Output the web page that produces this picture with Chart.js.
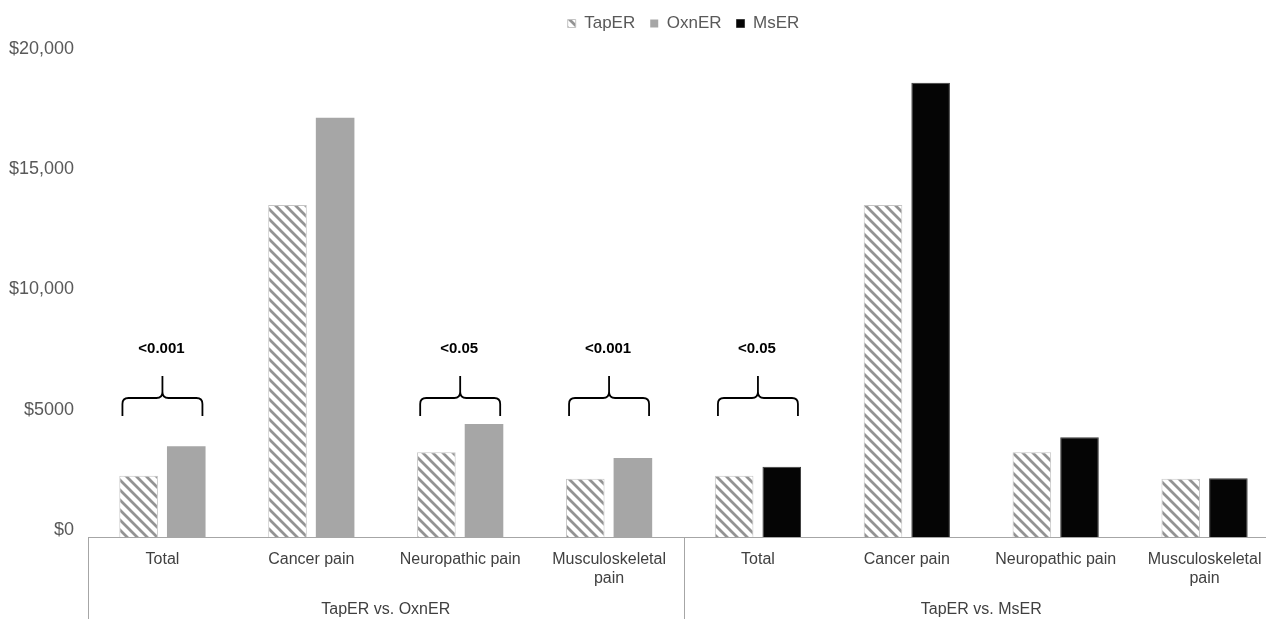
<!DOCTYPE html>
<html>
<head>
<meta charset="utf-8">
<script src="https://cdn.jsdelivr.net/npm/chart.js@4.4.1/dist/chart.umd.min.js"></script>
<style>
  html, body { margin: 0; padding: 0; background: #fff; overflow: hidden; }
  #wrap { position: absolute; left: 0; top: 0; width: 1280px; height: 619px; }
</style>
</head>
<body>
<div id="wrap"><canvas id="c"></canvas></div>
<script>
// ---- data ----
const categories = [
  'Total', 'Cancer pain', 'Neuropathic pain', ['Musculoskeletal', 'pain'],
  'Total', 'Cancer pain', 'Neuropathic pain', ['Musculoskeletal', 'pain']
];
const groupLabels = ['TapER vs. OxnER', 'TapER vs. MsER'];
const tapER = [2550, 13800, 3520, 2420, 2550, 13800, 3520, 2420];
const oxnER = [3770, 17430, 4700, 3290, null, null, null, null];
const msER  = [null, null, null, null, 2920, 18890, 4145, 2440];
const yTickLabels = ['$0', '$5000', '$10,000', '$15,000', '$20,000'];
const bracketCategories = [0, 2, 3, 4];
const bracketLabels = ['<0.001', '<0.05', '<0.001', '<0.05'];

// ---- hatch pattern for TapER ----
function makeHatch() {
  const s = 10;
  const c = document.createElement('canvas');
  c.width = s; c.height = s;
  const g = c.getContext('2d');
  g.fillStyle = '#ffffff';
  g.fillRect(0, 0, s, s);
  g.strokeStyle = '#939393';
  g.lineWidth = 2.8;
  g.beginPath();
  g.moveTo(-1, -1); g.lineTo(s + 1, s + 1);
  g.moveTo(-1, s - 1); g.lineTo(1, s + 1);
  g.moveTo(s - 1, -1); g.lineTo(s + 1, 1);
  g.stroke();
  return g.createPattern(c, 'repeat');
}
const hatch = makeHatch();

const FONT = "'Liberation Sans', Arial, sans-serif";

const legendSpacer = {
  id: 'legendSpacer',
  beforeInit(chart) {
    const lg = chart.legend;
    if (!lg) return;
    const orig = lg.fit;
    lg.fit = function () { orig.call(this); this.height += 14; };
  }
};

const decorations = {
  id: 'decorations',
  afterDraw(chart) {
    const ctx = chart.ctx;
    const x = chart.scales.x, y = chart.scales.y;
    const area = chart.chartArea;
    const bottom = chart.height;
    const catW = x.getPixelForValue(1) - x.getPixelForValue(0);
    ctx.save();
    // group dividers
    ctx.strokeStyle = '#a6a6a6';
    ctx.lineWidth = 1;
    const edges = [0, 4, 8].map(i => x.getPixelForValue(i) - catW / 2);
    ctx.beginPath();
    edges.forEach(px => {
      const p = Math.round(px) + 0.5;
      ctx.moveTo(p, area.bottom);
      ctx.lineTo(p, bottom);
    });
    ctx.stroke();
    // group labels
    ctx.fillStyle = '#404040';
    ctx.font = '16px ' + FONT;
    ctx.textAlign = 'center';
    ctx.textBaseline = 'middle';
    groupLabels.forEach((lab, g) => {
      const cx = (edges[g] + edges[g + 1]) / 2;
      ctx.fillText(lab, cx, 610);
    });
    // brackets with p-values
    const yH = y.getPixelForValue(5780);
    ctx.strokeStyle = '#000';
    ctx.lineWidth = 1.8;
    ctx.fillStyle = '#000';
    ctx.font = 'bold 15px ' + FONT;
    bracketCategories.forEach((ci, k) => {
      const xc = x.getPixelForValue(ci);
      const x0 = xc - 40, x1 = xc + 40;
      const r = 6;
      ctx.beginPath();
      ctx.moveTo(x0, yH + 18);
      ctx.lineTo(x0, yH + r);
      ctx.quadraticCurveTo(x0, yH, x0 + r, yH);
      ctx.lineTo(xc - r, yH);
      ctx.quadraticCurveTo(xc, yH, xc, yH - r);
      ctx.lineTo(xc, yH - 22);
      ctx.moveTo(xc, yH - r);
      ctx.quadraticCurveTo(xc, yH, xc + r, yH);
      ctx.lineTo(x1 - r, yH);
      ctx.quadraticCurveTo(x1, yH, x1, yH + r);
      ctx.lineTo(x1, yH + 18);
      ctx.stroke();
      ctx.fillText(bracketLabels[k], xc - 1, yH - 49);
    });
    ctx.restore();
  }
};

new Chart(document.getElementById('c'), {
  type: 'bar',
  data: {
    labels: categories,
    datasets: [
      { label: 'TapER', data: tapER, backgroundColor: hatch, borderColor: '#c4c4c4', borderWidth: 1 },
      { label: 'OxnER', data: oxnER, backgroundColor: '#a6a6a6', borderColor: '#a6a6a6', borderWidth: 0 },
      { label: 'MsER', data: msER, backgroundColor: '#050505', borderColor: '#3c3c3c', borderWidth: 1 }
    ]
  },
  options: {
    responsive: true,
    maintainAspectRatio: false,
    animation: false,
    skipNull: true,
    categoryPercentage: 0.64,
    barPercentage: 0.81,
    layout: { padding: { top: 0, left: 0, right: 1, bottom: 0 } },
    plugins: {
      legend: {
        position: 'top',
        fullSize: false,
        labels: {
          font: { family: FONT, size: 17 },
          color: '#595959',
          boxWidth: 8,
          boxHeight: 8,
          padding: 15
        }
      },
      tooltip: { enabled: false }
    },
    scales: {
      x: {
        type: 'category',
        offset: true,
        grid: { display: false, drawTicks: false },
        border: { display: true, color: '#a6a6a6', width: 1 },
        ticks: {
          font: { family: FONT, size: 16 },
          color: '#404040',
          padding: 13,
          maxRotation: 0,
          autoSkip: false
        },
        afterFit(scale) { scale.height = 82; }
      },
      y: {
        min: 0,
        max: 20000,
        grid: { display: false, drawTicks: false },
        border: { display: false },
        ticks: {
          stepSize: 5000,
          font: { family: FONT, size: 18 },
          color: '#595959',
          padding: 14,
          labelOffset: -7,
          callback: (v, i) => yTickLabels[i]
        },
        afterFit(scale) { scale.width = 88; }
      }
    }
  },
  plugins: [legendSpacer, decorations]
});
</script>
</body>
</html>
